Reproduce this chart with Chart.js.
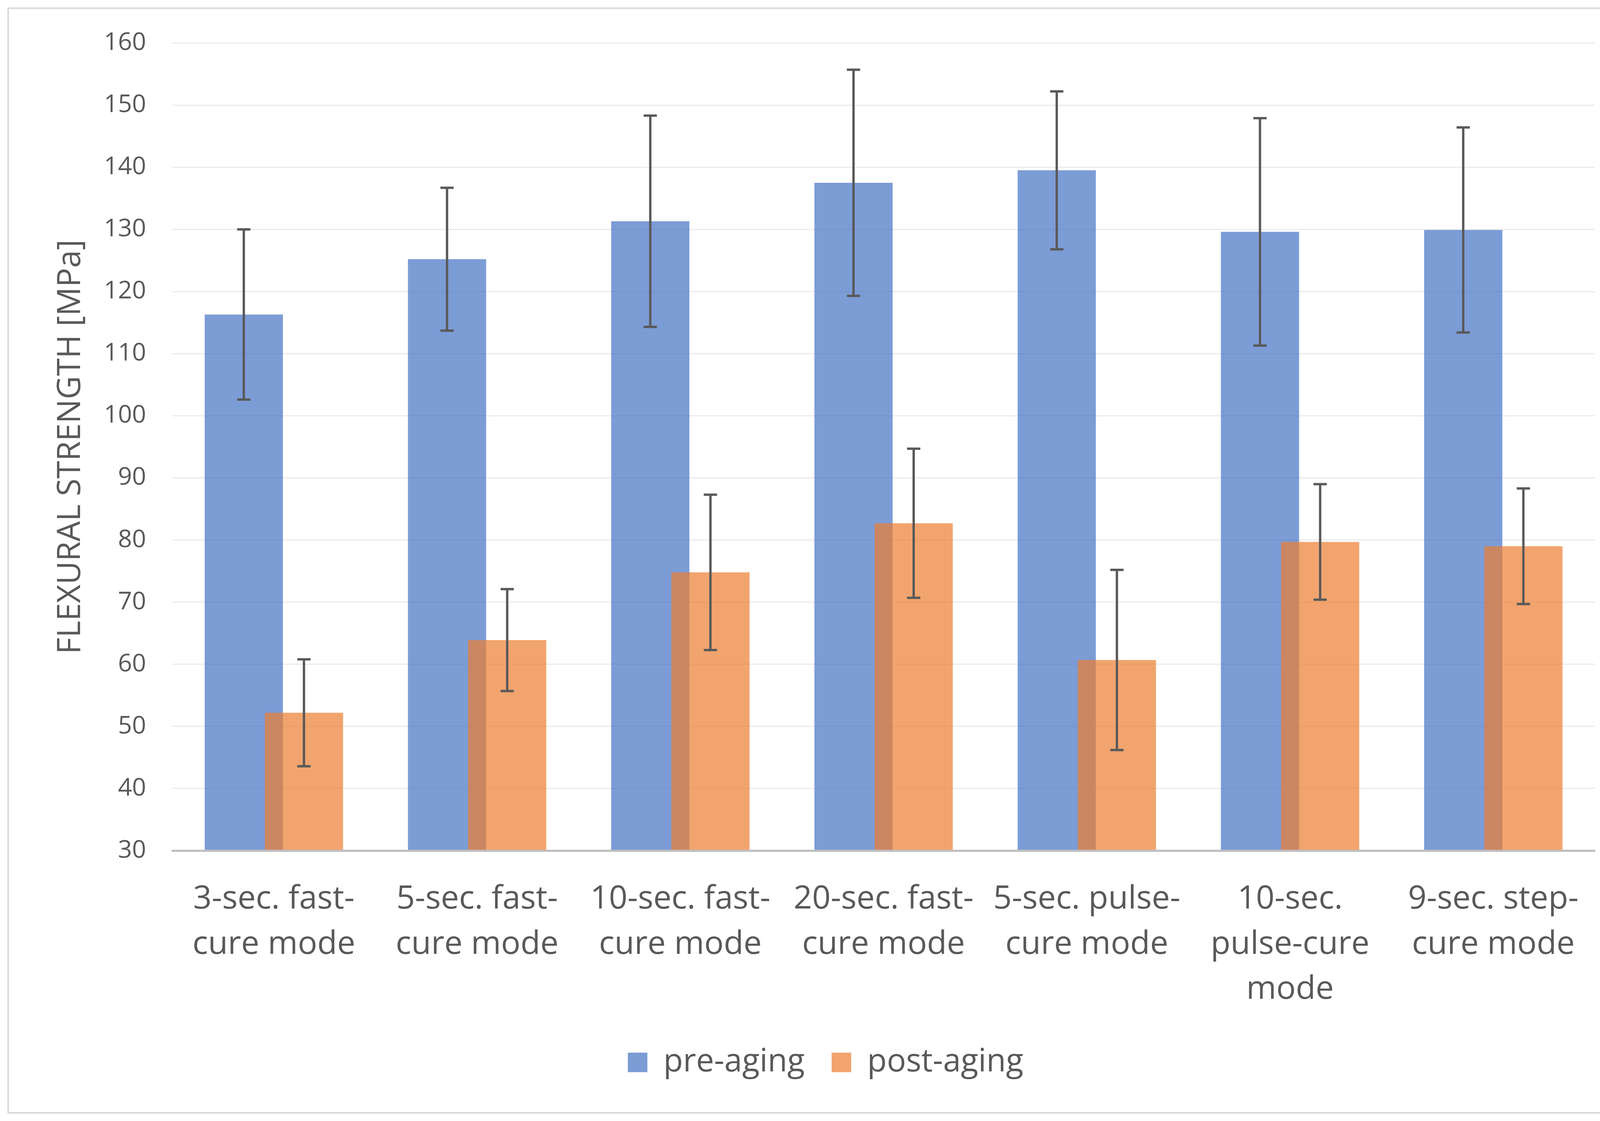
<!DOCTYPE html>
<html>
<head>
<meta charset="utf-8">
<script src="https://cdn.jsdelivr.net/npm/chart.js@4.4.1/dist/chart.umd.min.js"></script>
<style>
    html, body { margin: 0; padding: 0; background: #ffffff; }
    canvas { display: block; }
</style>
</head>
<body>
<canvas id="flexChart" width="4190" height="2870"></canvas>
<script>
// categories (multi-line labels as in the original)
const categories = [
    ['3-sec. fast-', 'cure mode'],
    ['5-sec. fast-', 'cure mode'],
    ['10-sec. fast-', 'cure mode'],
    ['20-sec. fast-', 'cure mode'],
    ['5-sec. pulse-', 'cure mode'],
    ['10-sec.', 'pulse-cure', 'mode'],
    ['9-sec. step-', 'cure mode']
];

// values (MPa)
const preAging     = [116.3, 125.2, 131.3, 137.5, 139.5, 129.6, 129.9];
const preAgingErr  = [13.7, 11.5, 17.0, 18.2, 12.7, 18.3, 16.5];
const postAging    = [52.2, 63.9, 74.8, 82.7, 60.7, 79.7, 79.0];
const postAgingErr = [8.6, 8.2, 12.5, 12.0, 14.5, 9.3, 9.3];

// y axis ticks
const yMin = 30;
const yMax = 160;
const yStep = 10;

const textColor = '#595959';
const fontFamily = '"Open Sans", "Noto Sans", sans-serif';

// Chart.js paints dataset 0 last; Excel paints the second series on top,
// so skip the normal pass and paint the datasets in index order
const drawOrderPlugin = {
    id: 'drawOrder',
    beforeDatasetDraw() {
        return false;
    },
    afterDatasetsDraw(chart) {
        const ctx = chart.ctx;
        const area = chart.chartArea;
        ctx.save();
        ctx.beginPath();
        ctx.rect(area.left, area.top, area.right - area.left, area.bottom - area.top);
        ctx.clip();
        chart.data.datasets.forEach((ds, i) => {
            const meta = chart.getDatasetMeta(i);
            if (!meta.hidden) meta.controller.draw();
        });
        ctx.restore();
        // redraw the base line over the bars
        const xScale = chart.scales.x;
        ctx.save();
        ctx.strokeStyle = '#bfbfbf';
        ctx.lineWidth = 5;
        ctx.beginPath();
        ctx.moveTo(xScale.left, area.bottom);
        ctx.lineTo(xScale.right, area.bottom);
        ctx.stroke();
        ctx.restore();
    }
};

// error bars drawn on top of the bars, using the chart's own scales
const errorBarPlugin = {
    id: 'errorBars',
    afterDatasetsDraw(chart) {
        const ctx = chart.ctx;
        const yScale = chart.scales.y;
        chart.data.datasets.forEach((ds, i) => {
            const meta = chart.getDatasetMeta(i);
            if (meta.hidden) return;
            meta.data.forEach((bar, j) => {
                const v = ds.data[j];
                const e = ds.errors[j];
                const top = yScale.getPixelForValue(v + e);
                const bottom = yScale.getPixelForValue(v - e);
                const cap = 17;
                ctx.save();
                ctx.strokeStyle = '#595959';
                ctx.lineWidth = 6;
                ctx.beginPath();
                ctx.moveTo(bar.x, top);
                ctx.lineTo(bar.x, bottom);
                ctx.moveTo(bar.x - cap, top);
                ctx.lineTo(bar.x + cap, top);
                ctx.moveTo(bar.x - cap, bottom);
                ctx.lineTo(bar.x + cap, bottom);
                ctx.stroke();
                ctx.restore();
            });
        });
    }
};

// light frame round the whole chart
const framePlugin = {
    id: 'frame',
    beforeDraw(chart) {
        const ctx = chart.ctx;
        ctx.save();
        ctx.fillStyle = '#ffffff';
        ctx.fillRect(0, 0, chart.width, chart.height);
        ctx.strokeStyle = '#d9d9d9';
        ctx.lineWidth = 4;
        ctx.strokeRect(21, 21, chart.width - 42, chart.height - 42);
        ctx.restore();
    }
};

const ctx = document.getElementById('flexChart').getContext('2d');

new Chart(ctx, {
    type: 'bar',
    data: {
        labels: categories,
        datasets: [
            {
                label: 'pre-aging',
                data: preAging,
                errors: preAgingErr,
                backgroundColor: 'rgba(68, 114, 196, 0.7)',
                borderWidth: 0
            },
            {
                label: 'post-aging',
                data: postAging,
                errors: postAgingErr,
                backgroundColor: 'rgba(237, 125, 49, 0.7)',
                borderWidth: 0
            }
        ]
    },
    options: {
        responsive: false,
        devicePixelRatio: 1,
        animation: false,
        // bars wider than their slot so the two series overlap, like Excel
        barPercentage: 1.3,
        categoryPercentage: 0.592,
        layout: {
            padding: { left: 144, right: 107, top: 110, bottom: 99 }
        },
        scales: {
            x: {
                grid: { display: false, drawTicks: false },
                border: { display: true, color: '#bfbfbf', width: 5 },
                ticks: {
                    color: textColor,
                    padding: 67,
                    maxRotation: 0,
                    autoSkip: false,
                    font: { family: fontFamily, size: 83, lineHeight: 1.39 }
                },
                afterFit(scale) { scale.height = 432; }
            },
            y: {
                min: yMin,
                max: yMax,
                grid: { color: '#ebebeb', lineWidth: 3, drawTicks: false },
                border: { display: false },
                ticks: {
                    stepSize: yStep,
                    color: textColor,
                    padding: 67,
                    font: { family: fontFamily, size: 63 }
                },
                title: {
                    display: true,
                    text: 'FLEXURAL STRENGTH [MPa]',
                    color: textColor,
                    padding: 0,
                    font: { family: fontFamily, size: 82, lineHeight: 0.93 }
                },
                afterFit(scale) { scale.width = 297; }
            }
        },
        plugins: {
            legend: {
                position: 'bottom',
                labels: {
                    color: textColor,
                    boxWidth: 50,
                    boxHeight: 50,
                    padding: 69,
                    font: { family: fontFamily, size: 82 }
                }
            },
            tooltip: { enabled: false }
        }
    },
    plugins: [framePlugin, drawOrderPlugin, errorBarPlugin]
});
</script>
</body>
</html>
